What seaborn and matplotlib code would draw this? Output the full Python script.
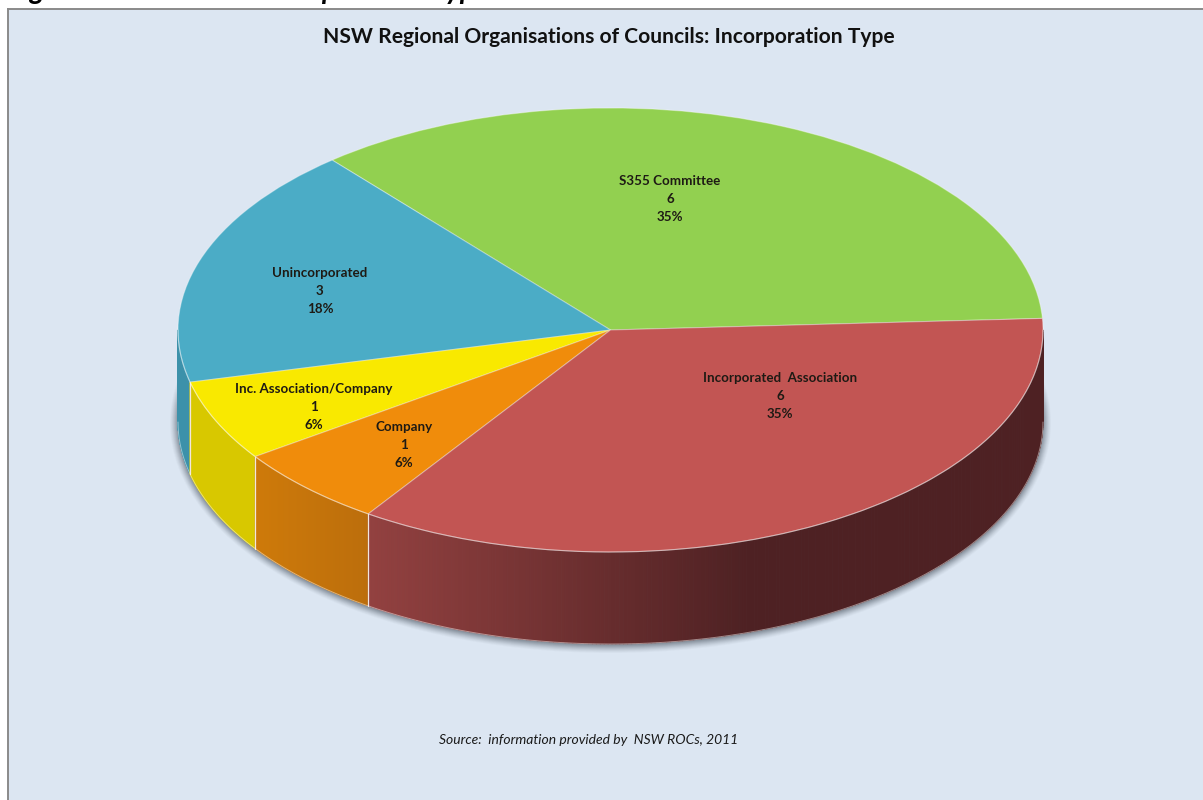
import numpy as np
import matplotlib
matplotlib.use("Agg")
import matplotlib.pyplot as plt
from matplotlib.collections import PolyCollection
from matplotlib.patches import Ellipse
from matplotlib.colors import to_rgb
import seaborn as sns

# Council organisation counts by incorporation type, counter-clockwise from the right
categories = ["S355 Committee", "Unincorporated", "Inc. Association/Company",
              "Company", "Incorporated  Association"]
counts = [6, 3, 1, 1, 6]
top_colors = ["#92D050", "#4BACC6", "#F9E900", "#F08C0B", "#C25553"]

title = "NSW Regional Organisations of Councils: Incorporation Type"
source = "Source:  information provided by  NSW ROCs, 2011"
heading = "Figure 4: NSW ROCs Incorporation Type"

W, H = 1203, 800
CX, CY, RX, RY = 610.5, 330.0, 432.5, 222.0   # ellipse of the disc top, in pixels
DEPTH = 92.0 / RY
START = 3.0

sns.set_theme(style="white")
plt.rcParams["font.family"] = ["Lato", "DejaVu Sans"]

fig = plt.figure(figsize=(W / 100, H / 100), dpi=100, facecolor="white")
ax = fig.add_axes([8 / W, 0, 1 - 8 / W, 1 - 9 / H])

palette = sns.color_palette(top_colors)
wedges, _ = ax.pie(counts, colors=palette, startangle=START, counterclock=True,
                   radius=1.0,
                   wedgeprops=dict(edgecolor=(1, 1, 1, 0.35), linewidth=0.8, zorder=5))

ax.set_aspect("auto")
ax.set_xlim((8 - CX) / RX, (W - CX) / RX)
ax.set_ylim((CY - H) / RY, (CY - 9) / RY)
ax.set_xticks([])
ax.set_yticks([])
ax.set_frame_on(True)
ax.set_facecolor("#DCE6F2")
for side, spine in ax.spines.items():
    spine.set_visible(side in ("left", "top"))
    spine.set_color("#8A8A8A")
    spine.set_linewidth(1.4)

# Soft shadow under the disc
for grow, alpha in zip(np.linspace(8, 0, 9), np.linspace(0.03, 0.13, 9)):
    ax.add_patch(Ellipse((0, -DEPTH - 1 / RY), 2 + 2 * grow / RX, 2 + 2 * grow / RY,
                         facecolor="#3C4650", edgecolor="none", alpha=alpha, zorder=1))

# Side wall shading: per slice colour ramps against horizontal position
wall_ramps = [
    None,
    ((-1.0, 1.0), ("#3C91AA", "#3C91AA")),
    ((-1.0, 1.0), ("#D8C800", "#D4C400")),
    ((-0.82, -0.56), ("#CE7A0A", "#BC6E0C")),
    ((-0.56, 0.32), ("#934140", "#4E2123")),
]
edges = START + 360.0 * np.cumsum([0] + counts) / sum(counts)
boundaries = []
for i, ramp in enumerate(wall_ramps):
    lo, hi = max(edges[i], 180.0), min(edges[i + 1], 360.0)
    if ramp is None or lo >= hi:
        continue
    theta = np.radians(np.linspace(lo, hi, 240))
    x, y = np.cos(theta), np.sin(theta)
    (x0, x1), (c0, c1) = ramp
    c0, c1 = np.array(to_rgb(c0)), np.array(to_rgb(c1))
    polys, cols = [], []
    for j in range(len(theta) - 1):
        polys.append([(x[j], y[j]), (x[j + 1], y[j + 1]),
                      (x[j + 1], y[j + 1] - DEPTH), (x[j], y[j] - DEPTH)])
        t = np.clip((0.5 * (x[j] + x[j + 1]) - x0) / (x1 - x0), 0, 1)
        cols.append(c0 + (c1 - c0) * t)
    ax.add_collection(PolyCollection(polys, facecolors=cols, edgecolors=cols,
                                     linewidths=0.6, zorder=2))
    boundaries.append(lo)

# Pale seams between wall sections and along the lower rim
for angle in boundaries[1:]:
    a = np.radians(angle)
    ax.plot([np.cos(a)] * 2, [np.sin(a), np.sin(a) - DEPTH],
            color="#F2E6E0", lw=0.9, zorder=3)
rim = np.radians(np.linspace(180, 360, 400))
ax.plot(np.cos(rim), np.sin(rim) - DEPTH, color=(1, 1, 1, 0.45), lw=0.7, zorder=3)
ax.plot(np.cos(rim), np.sin(rim), color=(1, 1, 1, 0.4), lw=0.8, zorder=6)

# Slice labels: name, count and share
label_centres = [(670, 199), (320, 291), (314, 407), (404, 445), (780, 396)]
total = sum(counts)
for name, value, (px, py) in zip(categories, counts, label_centres):
    share = round(100 * value / total)
    fig.text(px / W, 1 - py / H, f"{name}\n{value}\n{share}%", ha="center", va="center",
             fontsize=9.6, fontweight="bold", color="#1E1A14", linespacing=1.62, zorder=10)

fig.text(608.5 / W, 1 - 37 / H, title, ha="center", va="center", fontsize=15.15,
         fontweight="bold", color="#111111")
fig.text(589 / W, 1 - 740.5 / H, source, ha="center", va="center", fontsize=10,
         style="italic", color="#1A1A1A")
fig.text(8 / W, 1 + 1 / H, heading, ha="left", va="baseline", fontsize=20.3,
         fontweight="bold", style="italic", color="black")

fig.savefig("out.png", dpi=100, facecolor="white")
